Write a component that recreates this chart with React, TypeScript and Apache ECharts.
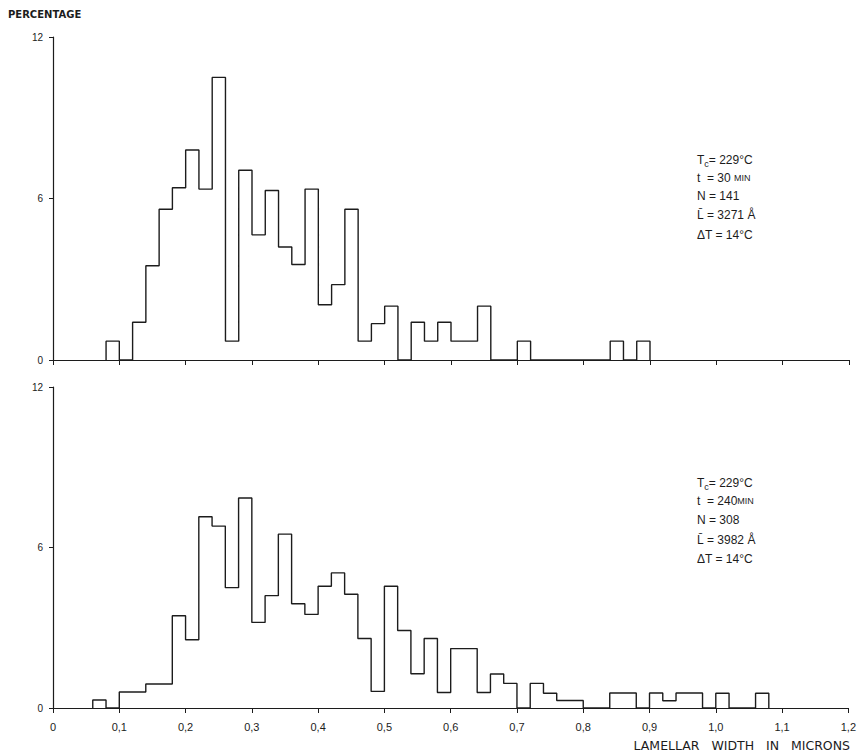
import React, { useEffect, useRef } from "react";
import * as echarts from "echarts";

// Top panel: Tc = 229°C, t = 30 min  (bin edges in microns, percentages per bin)
const topEdges = [
  0.08, 0.1, 0.12, 0.14, 0.16, 0.18, 0.2, 0.22, 0.24, 0.26, 0.28, 0.3, 0.32, 0.34, 0.36, 0.38,
  0.4, 0.42, 0.44, 0.46, 0.48, 0.5, 0.52, 0.54, 0.56, 0.58, 0.6, 0.62, 0.64, 0.66, 0.68, 0.7,
  0.72, 0.74, 0.76, 0.78, 0.8, 0.82, 0.84, 0.86, 0.88, 0.9,
];
const topPct = [
  0.7, 0, 1.4, 3.5, 5.6, 6.4, 7.8, 6.35, 10.5, 0.7, 7.05, 4.65, 6.3, 4.2, 3.55, 6.35,
  2.05, 2.8, 5.6, 0.7, 1.35, 2.0, 0, 1.4, 0.7, 1.4, 0.7, 0.7, 2.0, 0, 0, 0.7,
  0, 0, 0, 0, 0, 0, 0.7, 0, 0.7,
];

// Bottom panel: Tc = 229°C, t = 240 min
const bottomEdges = [
  0.06, 0.08, 0.1, 0.12, 0.14, 0.16, 0.18, 0.2, 0.22, 0.24, 0.26, 0.28, 0.3, 0.32, 0.34, 0.36,
  0.38, 0.4, 0.42, 0.44, 0.46, 0.48, 0.5, 0.52, 0.54, 0.56, 0.58, 0.6, 0.62, 0.64, 0.66, 0.68,
  0.7, 0.72, 0.74, 0.76, 0.78, 0.8, 0.82, 0.84, 0.86, 0.88, 0.9, 0.92, 0.94, 0.96, 0.98, 1.0,
  1.02, 1.04, 1.06, 1.08,
];
const bottomPct = [
  0.3, 0, 0.6, 0.6, 0.9, 0.9, 3.45, 2.55, 7.15, 6.8, 4.5, 7.85, 3.2, 4.2, 6.5, 3.9,
  3.5, 4.55, 5.05, 4.25, 2.6, 0.62, 4.55, 2.9, 1.28, 2.6, 0.58, 2.22, 2.22, 0.58, 1.27, 0.92,
  0, 0.92, 0.55, 0.28, 0.28, 0, 0, 0.56, 0.56, 0, 0.56, 0.27, 0.56, 0.56, 0, 0.55,
  0, 0, 0.55,
];

const yTicks = { min: 0, max: 12, interval: 6 };
const xRange = { min: 0, max: 1.2, interval: 0.1 };

const topLegend = ["{a|T}{s|c}{a|= 229°C}", "{a|t  = 30 }{m|MIN}", "{a|N = 141}", "{a|L̄ = 3271 Å}", "{a|ΔT = 14°C}"];
const bottomLegend = ["{a|T}{s|c}{a|= 229°C}", "{a|t  = 240}{m|MIN}", "{a|N = 308}", "{a|L̄ = 3982 Å}", "{a|ΔT = 14°C}"];

const FONT = "Liberation Sans";
const INK = "#1c1c1c";

function stepPoints(edges: number[], vals: number[]) {
  const pts: number[][] = [[edges[0], 0]];
  vals.forEach((v, i) => pts.push([edges[i], v]));
  pts.push([edges[edges.length - 1], 0]);
  return pts;
}

function xLabel(v: number) {
  if (v === 0) return "0";
  return v.toFixed(1).replace(".", ",");
}

const rich = {
  a: { fontFamily: FONT, fontSize: 12, fill: INK, color: INK },
  s: { fontFamily: FONT, fontSize: 9, fill: INK, color: INK, verticalAlign: "bottom", padding: [7, 0, 0, 0] },
  m: { fontFamily: FONT, fontSize: 9, fill: INK, color: INK },
};

function legendTexts(lines: string[], x: number, ys: number[]) {
  return lines.map((t, i) => ({
    type: "text",
    x: x,
    y: ys[i],
    style: { text: t, rich, align: "left", verticalAlign: "middle", fill: INK },
  }));
}

export default function App() {
  const ref = useRef<HTMLDivElement>(null);
  useEffect(() => {
    const chart = echarts.init(ref.current!, null, { renderer: "svg" });
    const axisLine = { show: true, lineStyle: { color: INK, width: 1.2 } };
    const option: any = {
      animation: false,
      backgroundColor: "#ffffff",
      grid: [
        { left: 53, top: 37, width: 796, height: 323 },
        { left: 53, top: 387, width: 796, height: 321 },
      ],
      xAxis: [0, 1].map((g) => ({
        type: "value",
        gridIndex: g,
        ...xRange,
        axisLine,
        axisTick: { show: true, length: 5, lineStyle: { color: INK } },
        splitLine: { show: false },
        axisLabel: {
          show: g === 1,
          formatter: xLabel,
          fontFamily: FONT,
          fontSize: 11,
          color: INK,
          margin: 13,
        },
      })),
      yAxis: [0, 1].map((g) => ({
        type: "value",
        gridIndex: g,
        ...yTicks,
        axisLine,
        axisTick: { show: true, length: 4, lineStyle: { color: INK } },
        splitLine: { show: false },
        axisLabel: { fontFamily: FONT, fontSize: 10, color: INK, margin: 10 },
      })),
      series: [
        {
          type: "line",
          xAxisIndex: 0,
          yAxisIndex: 0,
          step: "end",
          symbol: "none",
          data: stepPoints(topEdges, topPct),
          lineStyle: { color: INK, width: 1.4 },
        },
        {
          type: "line",
          xAxisIndex: 1,
          yAxisIndex: 1,
          step: "end",
          symbol: "none",
          data: stepPoints(bottomEdges, bottomPct),
          lineStyle: { color: INK, width: 1.4 },
        },
      ],
      graphic: [
        {
          type: "text",
          x: 8,
          y: 14,
          style: { text: "PERCENTAGE", fontFamily: "DejaVu Sans", fontSize: 10, fontWeight: "bold", fill: INK, align: "left", verticalAlign: "middle" },
        },
        {
          type: "text",
          x: 850,
          y: 745,
          style: { text: "LAMELLAR   WIDTH   IN   MICRONS", fontFamily: "DejaVu Sans", fontSize: 12.5, fill: INK, align: "right", verticalAlign: "middle" },
        },
        ...legendTexts(topLegend, 697, [160, 178, 196, 215, 235]),
        ...legendTexts(bottomLegend, 697, [483, 501, 520, 540, 559]),
      ],
    };
    chart.setOption(option);
    return () => chart.dispose();
  }, []);
  return (
    <div
      ref={ref}
      style={{ position: "absolute", left: 0, top: 0, width: 859, height: 754, background: "#fff" }}
    />
  );
}
